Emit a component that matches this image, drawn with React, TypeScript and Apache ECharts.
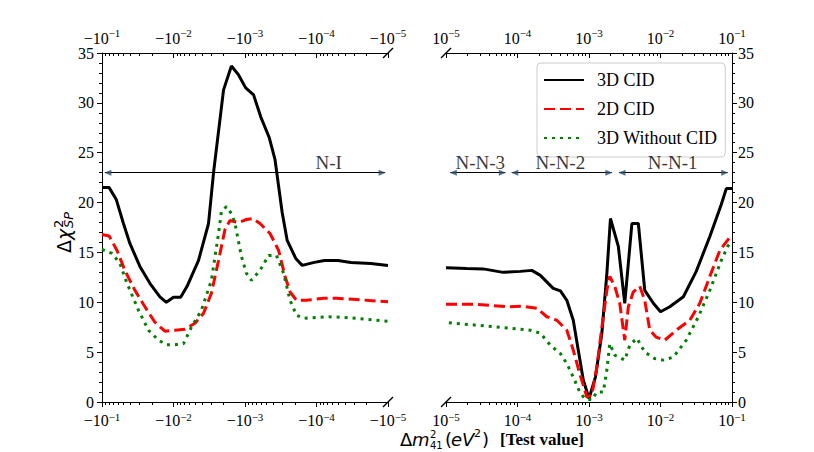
import React, { useEffect, useRef } from "react";
import * as echarts from "echarts";

// x values are log10(|Δm²41|) ; left panel is the negative branch (−10^x), right panel the positive one (10^x)
const majorExps = [-1, -2, -3, -4, -5];
const yTicks = [0, 5, 10, 15, 20, 25, 30, 35];

const leftBlackX = [-1.0, -1.1, -1.2, -1.3, -1.39, -1.53, -1.67, -1.81, -1.9, -2.0, -2.1, -2.19, -2.35, -2.49, -2.56, -2.7, -2.81, -2.91, -3.01, -3.12, -3.22, -3.34, -3.42, -3.52, -3.59, -3.71, -3.8, -3.97, -4.11, -4.3, -4.48, -4.76, -5.0];
const leftBlackY = [21.5, 21.5, 20.3, 17.9, 15.9, 13.6, 11.9, 10.55, 10.0, 10.5, 10.5, 11.6, 14.2, 17.9, 23.0, 31.3, 33.7, 32.8, 31.5, 30.8, 28.6, 26.5, 24.3, 19.0, 16.2, 14.4, 13.7, 14.0, 14.2, 14.2, 14.0, 13.9, 13.7];

const leftRedX = [-1.0, -1.1, -1.21, -1.32, -1.46, -1.6, -1.74, -1.88, -2.02, -2.16, -2.3, -2.42, -2.53, -2.63, -2.72, -2.79, -2.91, -3.02, -3.11, -3.21, -3.35, -3.47, -3.56, -3.63, -3.72, -3.86, -4.1, -4.28, -4.51, -5.0];
const leftRedY = [16.8, 16.65, 15.2, 13.2, 11.2, 9.55, 8.0, 7.1, 7.2, 7.3, 7.9, 8.9, 10.9, 14.2, 17.3, 18.2, 18.0, 18.3, 18.4, 17.9, 16.9, 15.2, 12.6, 11.05, 10.2, 10.2, 10.4, 10.4, 10.3, 10.05];

const leftGreenX = [-1.0, -1.14, -1.25, -1.35, -1.51, -1.65, -1.79, -1.9, -2.02, -2.14, -2.25, -2.39, -2.53, -2.63, -2.67, -2.74, -2.81, -2.86, -2.95, -3.02, -3.09, -3.21, -3.33, -3.44, -3.54, -3.63, -3.72, -3.82, -4.14, -4.37, -5.0];
const leftGreenY = [15.3, 14.9, 13.9, 11.9, 9.2, 7.2, 6.2, 5.75, 5.75, 5.85, 7.5, 9.2, 12.2, 16.9, 19.1, 19.6, 18.9, 17.9, 14.6, 12.9, 12.2, 13.2, 14.7, 14.7, 12.9, 10.2, 8.7, 8.4, 8.55, 8.5, 8.1];

const rightBlackX = [-5.0, -4.71, -4.48, -4.2, -3.96, -3.8, -3.68, -3.57, -3.5, -3.4, -3.31, -3.22, -3.15, -3.08, -3.0, -2.91, -2.82, -2.75, -2.7, -2.59, -2.5, -2.4, -2.31, -2.22, -2.1, -2.0, -1.87, -1.68, -1.5, -1.31, -1.15, -1.08, -1.0];
const rightBlackY = [13.47, 13.4, 13.35, 13.0, 13.1, 13.2, 12.7, 11.9, 11.4, 11.15, 10.2, 8.2, 5.2, 2.2, 0.35, 2.5, 6.9, 12.9, 18.4, 15.6, 9.9, 17.9, 17.9, 11.2, 9.9, 9.05, 9.55, 10.55, 13.1, 16.6, 19.8, 21.4, 21.4];

const rightRedX = [-5.0, -4.57, -4.15, -3.92, -3.73, -3.59, -3.45, -3.31, -3.22, -3.13, -3.03, -2.96, -2.89, -2.82, -2.75, -2.71, -2.64, -2.57, -2.5, -2.45, -2.38, -2.29, -2.22, -2.15, -2.06, -1.94, -1.78, -1.59, -1.45, -1.31, -1.17, -1.0];
const rightRedY = [9.8, 9.8, 9.55, 9.6, 9.4, 8.55, 8.2, 7.2, 5.2, 2.85, 0.5, 0.7, 3.5, 7.5, 11.2, 12.6, 11.6, 9.9, 6.2, 9.55, 11.05, 11.6, 10.2, 7.2, 6.5, 6.2, 7.2, 8.2, 9.9, 12.6, 15.2, 16.8];

const rightGreenX = [-4.96, -4.57, -4.1, -3.82, -3.68, -3.54, -3.4, -3.31, -3.22, -3.13, -3.06, -2.96, -2.89, -2.8, -2.75, -2.71, -2.64, -2.5, -2.43, -2.33, -2.22, -2.08, -1.96, -1.82, -1.64, -1.47, -1.31, -1.15, -1.06, -1.0];
const rightGreenY = [7.95, 7.7, 7.4, 7.2, 6.9, 5.7, 4.85, 3.85, 2.5, 1.0, 0.35, 0.2, 1.0, 1.0, 3.2, 5.85, 4.7, 4.2, 5.7, 6.4, 5.0, 4.35, 4.2, 4.5, 6.2, 8.55, 11.2, 14.2, 15.6, 16.2];

const seriesNames = ["3D CID", "2D CID", "3D Without CID"];

const leftRegions = ["N-I"];
const leftRegionStart = [-1.04];
const leftRegionEnd = [-4.96];
const leftRegionLabelX = [-4.17];
const rightRegions = ["N-N-3", "N-N-2", "N-N-1"];
const rightRegionStart = [-4.94, -4.08, -2.58];
const rightRegionEnd = [-4.17, -2.68, -1.06];
const rightRegionLabelX = [-4.52, -3.4, -1.83];
const arrowY = 23;
const regionLabelY = 24.0;

const SERIF = "'Liberation Serif', 'Times New Roman', serif";
const MATH = "'DejaVu Sans', sans-serif";

const zip = (xs: number[], ys: number[]) => xs.map((x, i) => [x, ys[i]]);

const minorExps: number[] = [];
for (let k = -5; k <= -2; k++) {
  for (let j = 2; j <= 9; j++) minorExps.push(Math.log10(j) + k);
}

const GRID_L = { left: 102, top: 53, width: 286, height: 349 };
const GRID_R = { left: 446, top: 53, width: 286, height: 349 };

function majorX(gridIndex: number, position: "top" | "bottom", inverse: boolean, neg: boolean) {
  const top = position === "top";
  return {
    type: "value",
    gridIndex,
    position,
    min: -5,
    max: -1,
    inverse,
    axisLine: { show: true, onZero: false, lineStyle: { color: "#000", width: 1 } },
    axisTick: { show: true, inside: top, length: 5, customValues: majorExps, lineStyle: { color: "#000", width: 1 } },
    axisLabel: {
      show: true,
      customValues: majorExps,
      margin: top ? 4 : 9,
      formatter: (v: number) => `{b|${neg ? "\u2212" : ""}10}{s|\u2212${Math.round(-v)}}`,
      rich: {
        b: { fontFamily: SERIF, fontSize: 16, color: "#000", lineHeight: top ? 22 : 18 },
        s: { fontFamily: SERIF, fontSize: 11, color: "#000", lineHeight: 8, verticalAlign: "top" },
      },
    },
    splitLine: { show: false },
    minorTick: { show: false },
  };
}

function minorX(gridIndex: number, position: "top" | "bottom", inverse: boolean) {
  return {
    type: "value",
    gridIndex,
    position,
    min: -5,
    max: -1,
    inverse,
    axisLine: { show: false, onZero: false },
    axisTick: { show: true, inside: position === "top", length: 3, customValues: minorExps, lineStyle: { color: "#000", width: 1 } },
    axisLabel: { show: false },
    splitLine: { show: false },
  };
}

function majorY(gridIndex: number, position: "left" | "right") {
  return {
    type: "value",
    gridIndex,
    position,
    min: 0,
    max: 35,
    interval: 5,
    axisLine: { show: true, onZero: false, lineStyle: { color: "#000", width: 1 } },
    axisTick: { show: true, inside: false, length: 5, lineStyle: { color: "#000" } },
    minorTick: { show: true, splitNumber: 5, length: 3, lineStyle: { color: "#000" } },
    axisLabel: { color: "#000", fontFamily: SERIF, fontSize: 16, margin: position === "left" ? 8 : 6, customValues: yTicks },
    splitLine: { show: false },
    minorSplitLine: { show: false },
  };
}

function hiddenY(gridIndex: number) {
  return { type: "value", gridIndex, min: 0, max: 35, show: false };
}

function curve(name: string, xi: number, yi: number, data: number[][], color: string, type: any, z: number) {
  return {
    name,
    type: "line",
    xAxisIndex: xi,
    yAxisIndex: yi,
    data,
    symbol: "none",
    showSymbol: false,
    lineStyle: { color, width: 3, type, cap: "butt" },
    itemStyle: { color },
    z,
    clip: true,
  };
}

function regionSeries(xi: number, yi: number, names: string[], starts: number[], ends: number[], labelXs: number[]) {
  return [
    {
      name: "regions",
      type: "scatter",
      xAxisIndex: xi,
      yAxisIndex: yi,
      symbolSize: 1,
      itemStyle: { color: "rgba(0,0,0,0)" },
      silent: true,
      data: names.map((n, i) => ({ name: n, value: [labelXs[i], regionLabelY] })),
      label: { show: true, position: "inside", formatter: "{b}", color: "#000", fontFamily: SERIF, fontSize: 19 },
      markLine: {
        silent: true,
        symbol: "none",
        animation: false,
        label: { show: false },
        lineStyle: { color: "#000", width: 1, type: "solid" },
        data: names.map((_, i) => [{ coord: [starts[i], arrowY] }, { coord: [ends[i], arrowY] }]),
      },
      z: 5,
    },
    {
      name: "arrowheads",
      type: "scatter",
      xAxisIndex: xi,
      yAxisIndex: yi,
      symbol: "triangle",
      symbolSize: [6, 7],
      silent: true,
      itemStyle: { color: "#2b4c6f" },
      data: names.flatMap((_, i) => [
        { value: [starts[i], arrowY], symbolRotate: 90, symbolOffset: [3, 0] },
        { value: [ends[i], arrowY], symbolRotate: -90, symbolOffset: [-3, 0] },
      ]),
      z: 6,
    },
  ];
}

const txt = (x: number, y: number, text: string, font: string) => ({
  type: "text",
  x,
  y,
  style: { text, font, fill: "#000", align: "left", verticalAlign: "middle" },
});

export default function App() {
  const ref = useRef<HTMLDivElement>(null);
  useEffect(() => {
    if (!ref.current) return;
    const chart = echarts.init(ref.current, undefined, { renderer: "svg" });
    const option: any = {
      animation: false,
      backgroundColor: "#fff",
      grid: [
        { ...GRID_L, containLabel: false },
        { ...GRID_R, containLabel: false },
        { ...GRID_L, containLabel: false },
        { ...GRID_R, containLabel: false },
      ],
      xAxis: [
        majorX(0, "bottom", true, true),
        majorX(0, "top", true, true),
        majorX(1, "bottom", false, false),
        majorX(1, "top", false, false),
        minorX(2, "bottom", true),
        minorX(2, "top", true),
        minorX(3, "bottom", false),
        minorX(3, "top", false),
      ],
      yAxis: [majorY(0, "left"), majorY(1, "right"), hiddenY(2), hiddenY(3)],
      legend: {
        data: seriesNames,
        orient: "vertical",
        left: 537,
        top: 63,
        itemWidth: 40,
        itemHeight: 14,
        itemGap: 11,
        padding: [8, 8, 10, 6],
        backgroundColor: "#fff",
        borderColor: "#cccccc",
        borderWidth: 1,
        borderRadius: 4,
        selectedMode: false,
        itemStyle: { opacity: 0 },
        textStyle: { fontFamily: SERIF, fontSize: 18, color: "#000", padding: [0, 0, 0, 8] },
      },
      series: [
        curve(seriesNames[0], 0, 0, zip(leftBlackX, leftBlackY), "#000000", "solid", 3),
        curve(seriesNames[1], 0, 0, zip(leftRedX, leftRedY), "#ff0000", [11, 5], 3),
        curve(seriesNames[2], 0, 0, zip(leftGreenX, leftGreenY), "#008000", [3, 5], 3),
        curve(seriesNames[0], 2, 1, zip(rightBlackX, rightBlackY), "#000000", "solid", 3),
        curve(seriesNames[1], 2, 1, zip(rightRedX, rightRedY), "#ff0000", [11, 5], 3),
        curve(seriesNames[2], 2, 1, zip(rightGreenX, rightGreenY), "#008000", [3, 5], 3),
        ...regionSeries(0, 0, leftRegions, leftRegionStart, leftRegionEnd, leftRegionLabelX),
        ...regionSeries(2, 1, rightRegions, rightRegionStart, rightRegionEnd, rightRegionLabelX),
      ],
      graphic: [
        { type: "line", shape: { x1: 383, y1: 407, x2: 393, y2: 397 }, style: { stroke: "#000", lineWidth: 1.5 } },
        { type: "line", shape: { x1: 383, y1: 58, x2: 393, y2: 48 }, style: { stroke: "#000", lineWidth: 1.5 } },
        { type: "line", shape: { x1: 441, y1: 407, x2: 451, y2: 397 }, style: { stroke: "#000", lineWidth: 1.5 } },
        { type: "line", shape: { x1: 441, y1: 58, x2: 451, y2: 48 }, style: { stroke: "#000", lineWidth: 1.5 } },
        {
          type: "group",
          x: 64,
          y: 230,
          rotation: Math.PI / 2,
          children: [
            txt(-23, 0, "\u0394", `19px ${MATH}`),
            txt(-10, 0, "\u03c7", `italic 19px ${MATH}`),
            txt(2, -6, "2", `13px ${MATH}`),
            txt(2, 4, "SP", `italic 13px ${MATH}`),
          ],
        },
        {
          type: "group",
          x: 400,
          y: 439,
          children: [
            txt(0, 0, "\u0394", `18px ${MATH}`),
            txt(12, 0, "m", `italic 18px ${MATH}`),
            txt(30, -5, "2", `10px ${MATH}`),
            txt(30, 6.5, "41", `10px ${MATH}`),
            txt(45, 0, "(", `18px ${MATH}`),
            txt(51, 0, "eV", `italic 18px ${MATH}`),
            txt(74, -6, "2", `11px ${MATH}`),
            txt(82, 0, ")", `18px ${MATH}`),
            txt(100, 0, "[Test value]", `bold 17px ${SERIF}`),
          ],
        },
      ],
    };
    chart.setOption(option);
    return () => chart.dispose();
  }, []);
  return <div ref={ref} style={{ position: "fixed", left: 0, top: 0, width: 814, height: 452 }} />;
}
